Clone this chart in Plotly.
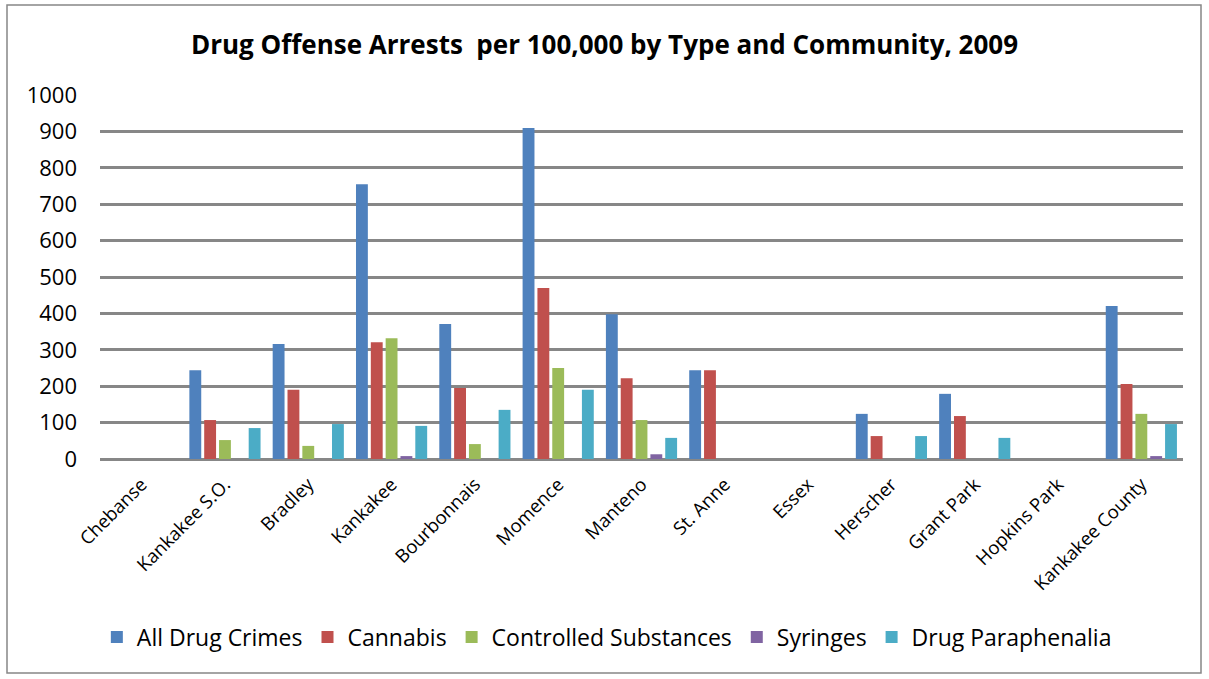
import plotly.graph_objects as go

communities = ["Chebanse", "Kankakee S.O.", "Bradley", "Kankakee", "Bourbonnais", "Momence",
               "Manteno", "St. Anne", "Essex", "Herscher", "Grant Park", "Hopkins Park",
               "Kankakee County"]

all_drug = [0, 244, 316, 755, 371, 909, 398, 244, 0, 124, 179, 0, 420]
cannabis = [0, 107, 190, 321, 195, 470, 222, 244, 0, 63, 118, 0, 206]
controlled = [0, 52, 36, 332, 41, 250, 107, 0, 0, 0, 0, 0, 124]
syringes = [0, 0, 0, 8, 0, 0, 13, 0, 0, 0, 0, 0, 8]
paraphernalia = [0, 85, 96, 91, 135, 190, 58, 0, 0, 63, 58, 0, 96]

series_names = ["All Drug Crimes", "Cannabis", "Controlled Substances", "Syringes", "Drug Paraphenalia"]
series_values = [all_drug, cannabis, controlled, syringes, paraphernalia]
colors = ["#4F81BD", "#C0504D", "#9BBB59", "#8064A2", "#4BACC6"]
y_ticks = list(range(0, 1001, 100))

FONT = "'Open Sans', Lato, sans-serif"

fig = go.Figure()
for name, vals, col in zip(series_names, series_values, colors):
    fig.add_trace(go.Bar(x=communities, y=vals, name=name, marker=dict(color=col, line=dict(width=0))))

L, R, T, B = 100, 26, 95, 220
W, H = 1209, 679
pw, ph = W - L - R, H - T - B

fig.update_layout(
    width=W, height=H,
    margin=dict(l=L, r=R, t=T, b=B),
    paper_bgcolor="white", plot_bgcolor="white",
    barmode="group", bargap=0.11, bargroupgap=0.2,
    font=dict(family=FONT, color="black"),
    title=dict(text="<b>Drug Offense Arrests  per 100,000 by Type and Community, 2009</b>",
               x=0.5, xanchor="center", y=1 - 45 / H, yanchor="middle",
               font=dict(size=26, family=FONT, color="black")),
    xaxis=dict(showgrid=False, tickangle=-45, tickfont=dict(size=18.5, color="black"),
               showline=False, ticks="", zeroline=False, ticklabelstandoff=10),
    yaxis=dict(range=[0, 1000], tickvals=y_ticks, showgrid=True, gridcolor="#878787", gridwidth=2.5,
               zeroline=True, zerolinecolor="#878787", zerolinewidth=2.5,
               tickfont=dict(size=22, color="black"), ticks="", ticklabelstandoff=22,
               showline=False),
    legend=dict(orientation="h", x=0.468, xanchor="center", y=(459 - 637) / ph, yanchor="middle",
                font=dict(size=23, color="black"), itemwidth=30, traceorder="normal"),
    shapes=[dict(type="rect", xref="paper", yref="paper",
                 x0=(7 - L) / pw, x1=(1201 - L) / pw,
                 y0=(459 - 673) / ph, y1=(459 - 5) / ph,
                 line=dict(color="#878787", width=1.5), fillcolor="rgba(0,0,0,0)", layer="below")],
)

fig.write_html("out.html", config={"displayModeBar": False},
               post_script="document.body.style.margin='0';")
